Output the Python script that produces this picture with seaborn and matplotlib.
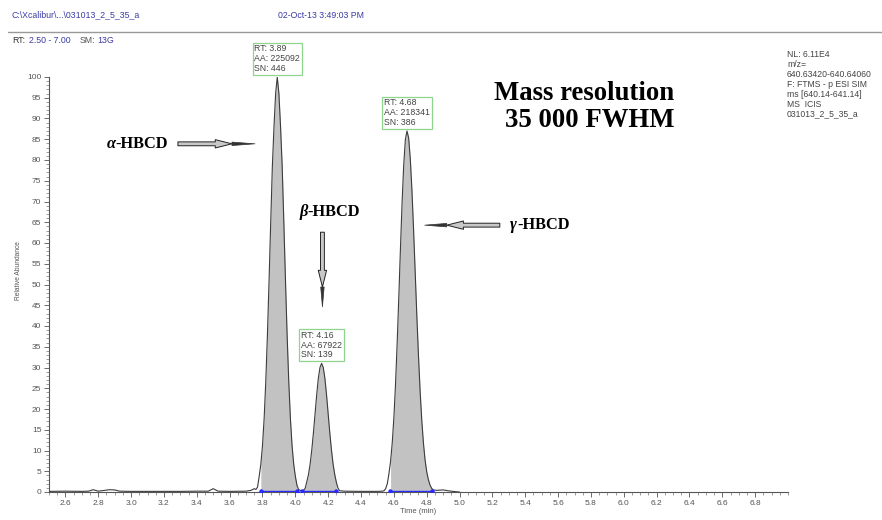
import numpy as np
import pandas as pd
import matplotlib
matplotlib.use("Agg")
import matplotlib.pyplot as plt
from matplotlib.ticker import MultipleLocator, FormatStrFormatter
import seaborn as sns

# ---------------- data ----------------
time_min = [2.50, 2.60, 2.70, 2.74, 2.77, 2.80, 2.84, 2.87, 2.90, 2.93, 3.00, 3.10, 3.20,
            3.30, 3.40, 3.47, 3.50, 3.53, 3.60, 3.70, 3.73, 3.75, 3.76,
            3.77, 3.78, 3.79, 3.80, 3.81, 3.82, 3.83, 3.84, 3.85, 3.86, 3.87, 3.88,
            3.89, 3.90, 3.91, 3.92, 3.93, 3.94, 3.95, 3.96, 3.97, 3.98, 3.99, 4.00,
            4.01, 4.02, 4.03, 4.04, 4.05,
            4.06, 4.07, 4.08, 4.09, 4.10, 4.11, 4.12, 4.13, 4.14, 4.15, 4.16, 4.17,
            4.18, 4.19, 4.20, 4.21, 4.22, 4.23, 4.24, 4.25, 4.26, 4.27, 4.30, 4.40,
            4.50, 4.53, 4.54, 4.55, 4.56, 4.57, 4.58, 4.59, 4.60, 4.61, 4.62, 4.63,
            4.64, 4.65, 4.66, 4.67, 4.68, 4.69, 4.70, 4.71, 4.72, 4.73, 4.74, 4.75,
            4.76, 4.77, 4.78, 4.79, 4.80, 4.81, 4.82, 4.83, 4.84, 4.86, 4.90, 4.93,
            4.97, 5.00]
rel_abundance = [0.15, 0.2, 0.15, 0.2, 0.55, 0.2, 0.4, 0.55, 0.5, 0.2, 0.15, 0.15, 0.15,
                 0.15, 0.2, 0.2, 0.8, 0.2, 0.15, 0.2, 0.4, 0.8, 0.6,
                 1.2, 3.8, 6.7, 11.2, 17.7, 26.6, 37.8, 50.9, 64.9, 78.4, 88, 96,
                 100, 96, 88, 78.4, 64.9, 50.9, 37.8, 26.6, 17.7, 11.2, 6.7, 3.8,
                 1.6, 0.6, 0.4, 0.3, 0.4,
                 0.9, 2.5, 4.2, 6.7, 10.1, 14.2, 18.8, 23.4, 27.4, 30.0, 31, 30.0,
                 27.4, 23.4, 18.8, 14.2, 10.1, 6.7, 4.2, 2.3, 0.9, 0.3, 0.2, 0.15,
                 0.15, 0.2, 0.3, 0.8, 2.0, 4.4, 7.4, 11.8, 17.9, 25.9, 35.8, 46.9,
                 58.6, 69.7, 78.8, 84.9, 87, 85.3, 80.3, 72.7, 63.2, 52.8, 42.3, 32.7,
                 24.2, 17.2, 11.8, 7.7, 4.9, 3.0, 1.7, 0.9, 0.5, 0.4, 0.5, 0.3,
                 0.1, 0.0]

peak_greek = ["α", "β", "γ"]
peak_rt = [3.89, 4.16, 4.68]
peak_area = [225092, 67922, 218341]
peak_sn = [446, 139, 386]
peak_height = [100, 31, 87]
integ_start = [3.79, 4.04, 4.575]
integ_end = [4.01, 4.25, 4.83]

x_ticks = [2.6, 2.8, 3.0, 3.2, 3.4, 3.6, 3.8, 4.0, 4.2, 4.4, 4.6, 4.8, 5.0,
           5.2, 5.4, 5.6, 5.8, 6.0, 6.2, 6.4, 6.6, 6.8]
y_ticks = [0, 5, 10, 15, 20, 25, 30, 35, 40, 45, 50, 55, 60, 65, 70, 75, 80, 85, 90, 95, 100]

header_file = "C:\\Xcalibur\\...\\031013_2_5_35_a"
header_date = "02-Oct-13 3:49:03 PM"
info_lines = ["NL: 6.11E4", "m/z=", "640.63420-640.64060", "F: FTMS - p ESI SIM",
              "ms [640.14-641.14]", "MS  ICIS", "031013_2_5_35_a"]

# ---------------- style ----------------
sns.set_theme(style="ticks")
plt.rcParams["font.family"] = ["Liberation Sans", "DejaVu Sans"]
SERIF = ["Liberation Serif", "DejaVu Serif"]
W, H = 882, 520

fig = plt.figure(figsize=(8.82, 5.2), dpi=100)
ax = fig.add_axes([49 / W, 1 - 492 / H, (788 - 49) / W, (492 - 77) / H])

df = pd.DataFrame({"Time (min)": time_min, "Relative Abundance": rel_abundance})
t = np.array(time_min)
y = np.array(rel_abundance)
for s, e in zip(integ_start, integ_end):
    m = (t >= s - 1e-9) & (t <= e + 1e-9)
    ax.fill_between(t[m], 0, y[m], color="#c2c2c2", lw=0, zorder=1)
sns.lineplot(data=df, x="Time (min)", y="Relative Abundance", ax=ax, color="#3c3c3c",
             linewidth=0.8, estimator=None, zorder=3)
for s, e in zip(integ_start, integ_end):
    ax.plot([s, e], [0.2, 0.2], color="#2a2aff", lw=1.0, marker="o", ms=2.2, zorder=4)

ax.set_xlim(2.5, 7.0)
ax.set_ylim(0, 100)
ax.set_xticks(x_ticks)
ax.set_yticks(y_ticks)
ax.xaxis.set_major_formatter(FormatStrFormatter("%.1f"))
ax.xaxis.set_minor_locator(MultipleLocator(0.05))
ax.yaxis.set_minor_locator(MultipleLocator(1))
ax.tick_params(axis="both", which="major", labelsize=6, labelcolor="#555555",
               color="#555555", length=3.5, width=0.6, pad=2)
ax.tick_params(axis="both", which="minor", color="#777777", length=2, width=0.5)
for sp in ["top", "right"]:
    ax.spines[sp].set_visible(False)
for sp in ["left", "bottom"]:
    ax.spines[sp].set_color("#555555")
    ax.spines[sp].set_linewidth(0.8)
ax.set_xlabel("Time (min)", fontsize=5.5, color="#555555", labelpad=1)
ax.set_ylabel("Relative Abundance", fontsize=4.8, color="#555555")
ax.yaxis.set_label_coords((22 - 49) / (788 - 49), (492 - 271) / (492 - 77))

# peak info boxes
for rt, aa, sn, h in zip(peak_rt, peak_area, peak_sn, peak_height):
    ax.text(rt, h + 1.0, f"RT: {rt:.2f}\nAA: {aa}\nSN: {sn}", ha="center", va="bottom",
            multialignment="left", fontsize=6.3, color="#444444", linespacing=1.1,
            bbox=dict(boxstyle="square,pad=0.2", fc="white", ec="#8fd48f", lw=0.9),
            zorder=6)

# compound labels (italic Greek letter + bold "-HBCD")
def label(x_split, yv, greek):
    ax.text(x_split, yv, greek, ha="right", va="center", fontsize=11.8, fontweight="bold",
            fontstyle="italic", family=SERIF, color="black")
    ax.text(x_split, yv, "-HBCD", ha="left", va="center", fontsize=11.8, fontweight="bold",
            family=SERIF, color="black")

label(2.905, 83.9, peak_greek[0])
label(4.075, 67.5, peak_greek[1])
label(5.350, 64.3, peak_greek[2])

def hollow_arrow(tail, head_end, tip):
    ax.annotate("", xy=head_end, xytext=tail,
                arrowprops=dict(arrowstyle="simple,head_length=1.2,head_width=0.6,tail_width=0.28",
                                fc="#c8c8c8", ec="#222222", lw=0.7, shrinkA=0, shrinkB=0,
                                mutation_scale=10))
    ax.annotate("", xy=tip, xytext=head_end,
                arrowprops=dict(arrowstyle="wedge,tail_width=0.25",
                                fc="#333333", ec="#333333", lw=0.5, shrinkA=0, shrinkB=0,
                                mutation_scale=10))

hollow_arrow((3.285, 83.9), (3.614, 83.9), (3.754, 83.9))
hollow_arrow((4.165, 62.6), (4.165, 49.4), (4.165, 44.6))
hollow_arrow((5.245, 64.3), (4.922, 64.3), (4.788, 64.3))

# mass resolution text
fig.text(584 / W, 1 - 94 / H, "Mass resolution", ha="center", va="center", fontsize=19.3,
         fontweight="bold", family=SERIF, color="black")
fig.text(589.5 / W, 1 - 120 / H, "35 000 FWHM", ha="center", va="center", fontsize=19.3,
         fontweight="bold", family=SERIF, color="black")

# header
hc = "#3b3ba6"
fs_h = 6.3
fig.text(12 / W, 1 - 15 / H, header_file, ha="left", va="center", fontsize=fs_h, color=hc)
fig.text(278 / W, 1 - 15 / H, header_date, ha="left", va="center", fontsize=fs_h, color=hc)
fig.add_artist(plt.Line2D([8 / W, 1.0], [1 - 32 / H, 1 - 32 / H], color="#9a9a9a", lw=1.0))
fig.text(12 / W, 1 - 41 / H, "RT:", ha="left", va="center", fontsize=fs_h, color="#333333")
fig.text(29 / W, 1 - 41 / H, "2.50 - 7.00", ha="left", va="center", fontsize=fs_h, color=hc)
fig.text(80 / W, 1 - 41 / H, "SM:", ha="left", va="center", fontsize=fs_h, color="#555555")
fig.text(97 / W, 1 - 41 / H, "13G", ha="left", va="center", fontsize=fs_h, color=hc)

fig.text(787 / W, 1 - 50 / H, "\n".join(info_lines), ha="left", va="top", fontsize=6.2,
         color="#444444", linespacing=1.13)

fig.savefig("out.png", dpi=100, facecolor="white")
